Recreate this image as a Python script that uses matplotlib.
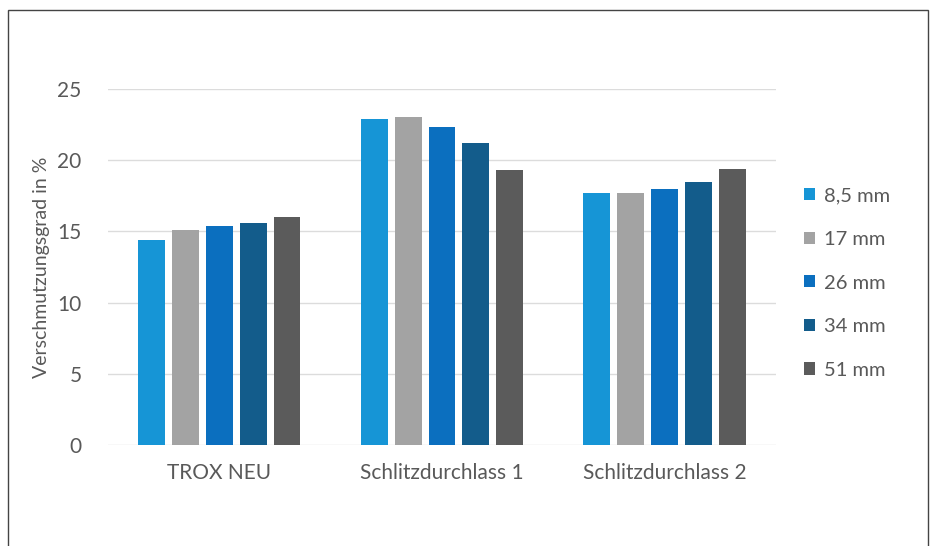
import numpy as np
import matplotlib.pyplot as plt
from matplotlib.patches import Rectangle

categories = ['TROX NEU', 'Schlitzdurchlass 1', 'Schlitzdurchlass 2']
series = ['8,5 mm', '17 mm', '26 mm', '34 mm', '51 mm']
values = {
    '8,5 mm': [14.4, 22.9, 17.7],
    '17 mm': [15.1, 23.0, 17.7],
    '26 mm': [15.4, 22.3, 18.0],
    '34 mm': [15.6, 21.2, 18.5],
    '51 mm': [16.0, 19.3, 19.4],
}
colors = ['#1695d6', '#a3a3a3', '#0b6fbf', '#135c8b', '#5b5b5b']
yticks = [0, 5, 10, 15, 20, 25]


def main():
    plt.rcParams['font.family'] = ['Lato', 'DejaVu Sans']
    fig = plt.figure(figsize=(9.31, 5.46), dpi=100)
    ax = fig.add_axes([0.116, 0.185, 0.7175, 0.652])

    x = np.arange(len(categories))
    pitch = 0.152
    width = 0.121
    for i, name in enumerate(series):
        ax.bar(x + (i - 2) * pitch, values[name], width, color=colors[i],
               label=name, zorder=3)

    ax.set_xlim(-0.5, len(categories) - 0.5)
    ax.set_ylim(0, 25)
    ax.set_yticks(yticks)
    ax.set_xticks(x)
    ax.set_xticklabels(categories)
    ax.grid(axis='y', color='#dcdcdc', linewidth=1, zorder=0)
    for s in ax.spines.values():
        s.set_visible(False)
    ax.tick_params(length=0, labelsize=15, labelcolor='#595959')
    ax.tick_params(axis='x', pad=13)
    ax.tick_params(axis='y', pad=19)
    ax.set_ylabel('Verschmutzungsgrad in %', fontsize=14, color='#595959',
                  labelpad=5)

    ax.legend(loc='center left', bbox_to_anchor=(1.015, 0.455), frameon=False,
              fontsize=14.5, labelcolor='#595959', handlelength=0.55,
              handleheight=0.55, handletextpad=0.45, labelspacing=1.32)

    fig.patches.append(Rectangle((8 / 931, -0.1), 920 / 931, 1.1 - 10 / 546,
                                 transform=fig.transFigure, fill=False,
                                 edgecolor='#444444', linewidth=1))
    fig.savefig('out.png', dpi=100)


if __name__ == "__main__":
    main()
